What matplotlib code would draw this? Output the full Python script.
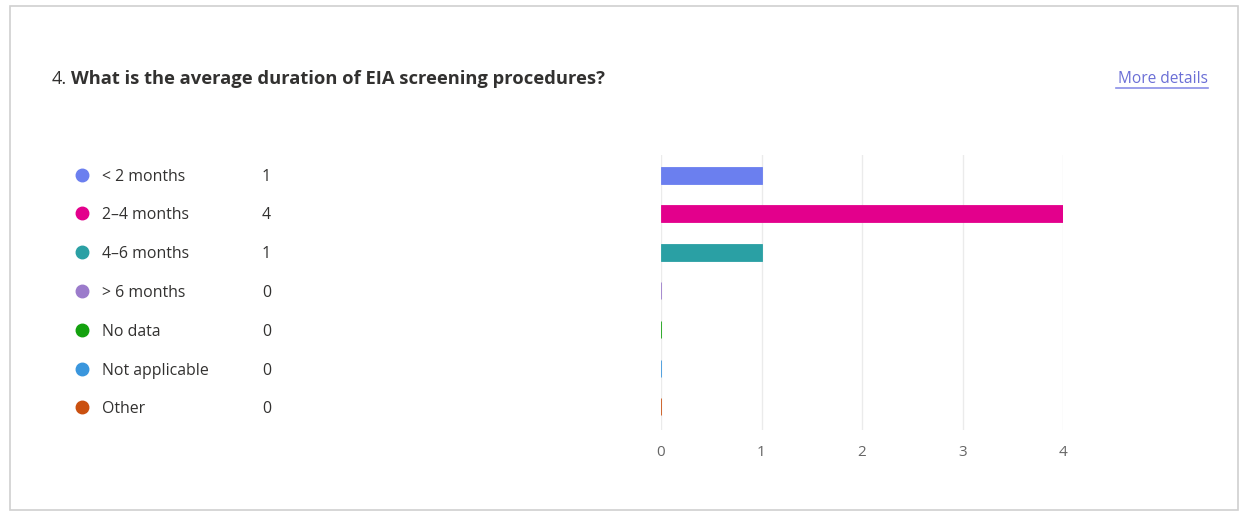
import matplotlib.pyplot as plt
from matplotlib.patches import Rectangle

plt.rcParams['font.family'] = ['Open Sans', 'DejaVu Sans']

# data
categories = ["< 2 months", "2\u20134 months", "4\u20136 months", "> 6 months",
              "No data", "Not applicable", "Other"]
counts = [1, 4, 1, 0, 0, 0, 0]
colors = ["#6B7FEF", "#E3008C", "#2AA0A4", "#9B7BCB", "#13A10E", "#3A96DD", "#CA5010"]
xticks = [0, 1, 2, 3, 4]

W, H = 1240, 516
fig = plt.figure(figsize=(W / 100, H / 100), dpi=100)

# card frame
fig.patches.append(Rectangle((10 / W, 6 / H), (W - 12) / W, (H - 12) / H,
                             transform=fig.transFigure, facecolor="white",
                             edgecolor="#d0d0d0", linewidth=1.2, zorder=-5))

# title
fig.text(52 / W, 1 - 77 / H, "4.", fontsize=13, color="#323130", va="center_baseline")
fig.text(71 / W, 1 - 77 / H, "What is the average duration of EIA screening procedures?",
         fontsize=13.2, fontweight="bold", color="#323130", va="center_baseline")
fig.text(1208 / W, 1 - 77 / H, "More details", fontsize=11.2, color="#6b6fd6",
         va="center_baseline", ha="right")
fig.add_artist(plt.Line2D([1116 / W, 1208 / W], [1 - 88 / H, 1 - 88 / H],
                          color="#8a8fe8", linewidth=1.2))

# legend
ys = [175, 213, 252, 291, 330, 369, 407]
for i, (cat, n, c) in enumerate(zip(categories, counts, colors)):
    y = 1 - ys[i] / H
    fig.add_artist(plt.Line2D([82 / W], [y], marker="o", markersize=9,
                              color=c, linestyle="none"))
    fig.text(102 / W, y, cat, fontsize=11.4, color="#323130", va="center_baseline")
    fig.text(262 / W, y, str(n), fontsize=11.4, color="#323130", va="center_baseline")

# bar chart
ax = fig.add_axes([661 / W, 1 - 430 / H, (1063 - 661) / W, (430 - 155) / H])
ax.patch.set_alpha(0)
pos = list(range(len(categories)))
ax.barh(pos, counts, height=0.44, color=colors, edgecolor=colors, linewidth=0.6,
        zorder=3)
ax.set_ylim(6.6, -0.52)
ax.set_xlim(0, 4)
ax.set_xticks(xticks)
ax.set_xticklabels([str(v) for v in xticks])
ax.set_yticks([])
ax.grid(axis="x", color="#ebebeb", linewidth=1, zorder=0)
for s in ax.spines.values():
    s.set_visible(False)
ax.tick_params(axis="x", length=0, pad=11, labelsize=11, labelcolor="#666666")

fig.savefig("out.png", dpi=100)
